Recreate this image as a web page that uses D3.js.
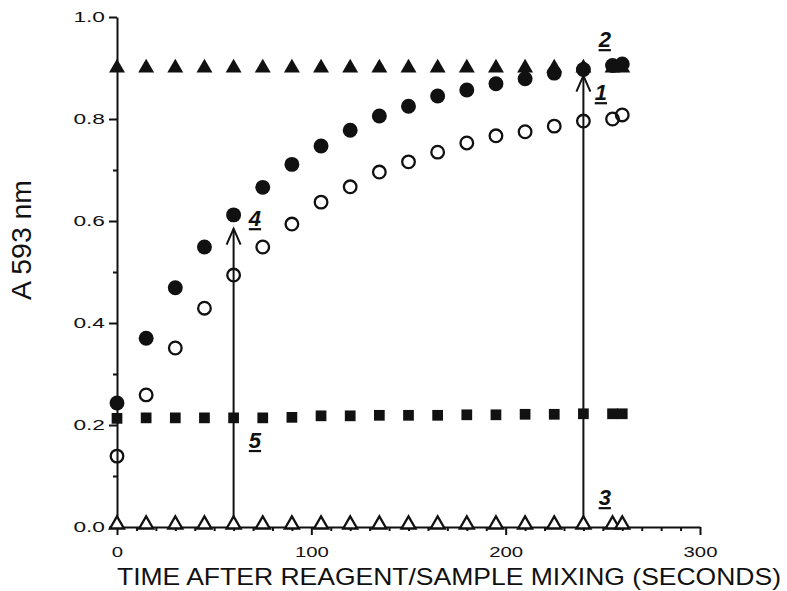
<!DOCTYPE html>
<meta charset="utf-8">
<style>
  body { margin: 0; background: #fff; }
  text { font-family: "Liberation Sans", Arial, sans-serif; fill: #111; }
  .axis path, .axis line { stroke: #111; stroke-width: 2; }
  .axis text { font-size: 15px; }
  .num { font-weight: bold; font-style: italic; font-size: 22px; text-decoration: underline; }
</style>
<body>
<svg id="chart" width="787" height="591"></svg>
<script src="https://d3js.org/d3.v7.min.js"></script>
<script>
// sampling times (s)
var times = [0, 15, 30, 45, 60, 75, 90, 105, 120, 135, 150, 165, 180, 195, 210, 225, 240, 255, 260];

// absorbance at 593 nm, one list per marker type
var filledCircle = [0.243, 0.370, 0.469, 0.549, 0.612, 0.666, 0.711, 0.747, 0.778, 0.806, 0.825, 0.845, 0.857, 0.869, 0.879, 0.890, 0.897, 0.905, 0.908];
var openCircle = [0.139, 0.259, 0.351, 0.429, 0.494, 0.549, 0.594, 0.637, 0.667, 0.696, 0.716, 0.735, 0.753, 0.767, 0.775, 0.786, 0.796, 0.800, 0.808];
var filledTriangle = [0.900, 0.900, 0.900, 0.900, 0.900, 0.900, 0.900, 0.900, 0.900, 0.900, 0.900, 0.900, 0.900, 0.900, 0.900, 0.900, 0.900, 0.900, 0.900];
var openTriangle = [0.005, 0.005, 0.005, 0.005, 0.005, 0.005, 0.005, 0.005, 0.005, 0.005, 0.005, 0.005, 0.005, 0.005, 0.005, 0.005, 0.005, 0.005, 0.005];
var filledSquare = [0.213, 0.214, 0.214, 0.214, 0.214, 0.214, 0.215, 0.218, 0.218, 0.219, 0.219, 0.219, 0.220, 0.220, 0.221, 0.221, 0.222, 0.222, 0.222];

// arrows: time and value reached
var arrowTimes = [60, 240];
var arrowTops = [0.585, 0.885];

// curve numbers
var labelText = ["1", "2", "3", "4", "5"];
var labelTimes = [249, 251, 251, 71, 71];
var labelValues = [0.837, 0.941, 0.043, 0.59, 0.155];

var svg = d3.select("#chart");

var x = d3.scaleLinear().domain([0, 300]).range([117, 700]);
var y = d3.scaleLinear().domain([0, 1]).range([527, 17]);

function charLen(s) {
  var n = 0;
  for (var i = 0; i < s.length; i++) n += (s[i] == ".") ? 9 : 11.3;
  return n;
}

// y axis
var yAxis = svg.append("g").attr("class", "axis")
  .attr("transform", "translate(" + x(0) + ",0)")
  .call(d3.axisLeft(y).tickValues([0, 0.2, 0.4, 0.6, 0.8, 1.0])
    .tickFormat(d3.format(".1f")).tickSize(8).tickSizeOuter(0).tickPadding(4));
yAxis.selectAll("text")
  .attr("textLength", function(d) { return charLen(d3.format(".1f")(d)); })
  .attr("lengthAdjust", "spacingAndGlyphs");

svg.append("g").attr("class", "axis")
  .attr("transform", "translate(" + x(0) + ",0)")
  .call(d3.axisLeft(y).tickValues([0.1, 0.3, 0.5, 0.7, 0.9]).tickFormat("").tickSize(4))
  .select(".domain").remove();

// x axis
var xAxis = svg.append("g").attr("class", "axis")
  .attr("transform", "translate(0," + y(0) + ")")
  .call(d3.axisBottom(x).tickValues([0, 100, 200, 300])
    .tickSize(8).tickSizeOuter(0).tickPadding(11));
xAxis.selectAll("text")
  .attr("textLength", function(d) { return charLen(String(d)); })
  .attr("lengthAdjust", "spacingAndGlyphs");

svg.append("g").attr("class", "axis")
  .attr("transform", "translate(0," + y(0) + ")")
  .call(d3.axisBottom(x).tickValues(d3.range(10, 300, 10).filter(function(d) { return d % 100 != 0; }))
    .tickFormat("").tickSize(4))
  .select(".domain").remove();

// axis titles
svg.append("text")
  .attr("x", 449).attr("y", 585)
  .attr("text-anchor", "middle")
  .attr("textLength", 664).attr("lengthAdjust", "spacingAndGlyphs")
  .style("font-size", "24px")
  .text("TIME AFTER REAGENT/SAMPLE MIXING (SECONDS)");

svg.append("text")
  .attr("transform", "translate(31,240) rotate(-90)")
  .attr("text-anchor", "middle")
  .attr("textLength", 120).attr("lengthAdjust", "spacingAndGlyphs")
  .style("font-size", "27px")
  .text("A 593 nm");

// arrows
var arrows = svg.append("g").attr("stroke", "#111").attr("stroke-width", 2).attr("fill", "none");
arrowTimes.forEach(function(t, i) {
  var px = x(t), top = y(arrowTops[i]);
  arrows.append("line").attr("x1", px).attr("x2", px).attr("y1", y(0)).attr("y2", top);
  arrows.append("path")
    .attr("d", "M" + (px - 7) + "," + (top + 16) + "L" + px + "," + top + "L" + (px + 7) + "," + (top + 16));
});

// markers
function drawSeries(vals, type, size, fill, stroke) {
  svg.append("g").selectAll("path")
    .data(vals)
    .enter().append("path")
    .attr("transform", function(d, i) { return "translate(" + x(times[i]) + "," + y(d) + ")"; })
    .attr("d", d3.symbol().type(type).size(size))
    .attr("fill", fill)
    .attr("stroke", stroke)
    .attr("stroke-width", stroke == "none" ? 0 : 2.3);
}

drawSeries(filledSquare, d3.symbolSquare, 115, "#111", "none");
drawSeries(openCircle, d3.symbolCircle, 125, "none", "#111");
drawSeries(filledTriangle, d3.symbolTriangle, 110, "#111", "none");
drawSeries(filledCircle, d3.symbolCircle, 175, "#111", "none");
drawSeries(openTriangle, d3.symbolTriangle, 85, "#fff", "#111");

// curve numbers
svg.append("g").selectAll("text")
  .data(labelText)
  .enter().append("text")
  .attr("class", "num")
  .attr("text-anchor", "middle")
  .attr("x", function(d, i) { return x(labelTimes[i]); })
  .attr("y", function(d, i) { return y(labelValues[i]); })
  .text(function(d) { return d; });
</script>
</body>
